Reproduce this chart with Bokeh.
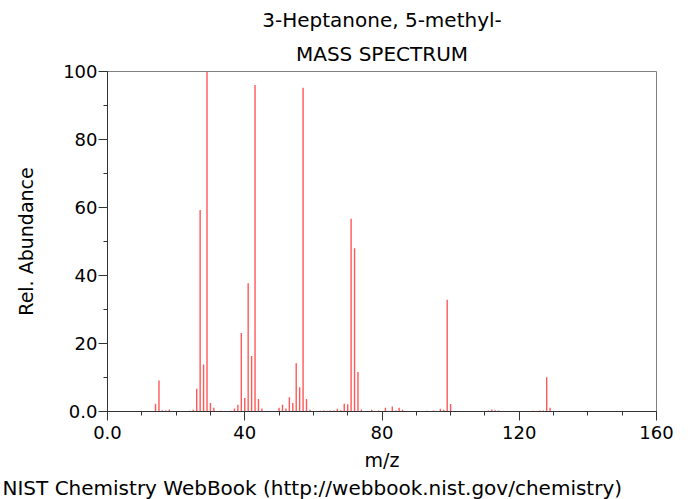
from bokeh.plotting import figure
from bokeh.models import Range1d, FixedTicker, Title
from bokeh.embed import file_html
from bokeh.resources import INLINE

mz = [14, 15, 16, 17, 18, 24, 25, 26, 27, 28, 29, 30, 31, 33, 36, 37, 38, 39, 40,
      41, 42, 43, 44, 45, 50, 51, 52, 53, 54, 55, 56, 57, 58, 59, 62, 63, 64, 65,
      66, 67, 68, 69, 70, 71, 72, 73, 74, 77, 79, 81, 83, 84, 85, 86, 93, 95, 97,
      98, 99, 100, 111, 112, 113, 114, 124, 126, 127, 128, 129]
abundance = [2.3, 9.1, 0.4, 0.3, 0.6, 0.2, 0.5, 6.7, 59.3, 13.8, 100.0, 2.5, 1.1,
             0.2, 0.2, 0.9, 2.0, 23.1, 4.0, 37.7, 16.3, 96.0, 3.7, 0.9, 1.1, 2.0,
             0.9, 4.2, 2.5, 14.2, 7.1, 95.2, 3.7, 0.5, 0.2, 0.3, 0.2, 0.3, 0.3, 0.8,
             0.4, 2.3, 2.1, 56.7, 48.0, 11.6, 0.6, 0.5, 0.3, 1.1, 1.5, 0.3, 1.1, 0.5,
             0.2, 0.3, 0.8, 0.5, 32.9, 2.2, 0.3, 0.6, 0.4, 0.3, 0.2, 0.3, 0.3, 10.1, 1.1]

x_major = [0, 40, 80, 120, 160]
x_minor = list(range(0, 161, 10))
y_major = [0, 20, 40, 60, 80, 100]
y_minor = list(range(0, 101, 10))

title_main = "3-Heptanone, 5-methyl-"
title_sub = "MASS SPECTRUM"
footer = "NIST Chemistry WebBook (http://webbook.nist.gov/chemistry)"

FONT = "DejaVu Sans"

p = figure(width=693, height=499, output_backend="svg", toolbar_location=None,
           x_range=Range1d(0, 160), y_range=Range1d(0, 100),
           min_border_left=107, min_border_right=37, min_border_top=71,
           min_border_bottom=88, background_fill_color="white",
           border_fill_color="white")

p.segment(x0=mz, y0=[0] * len(mz), x1=mz, y1=abundance,
          line_color="#ff2020", line_width=1.4, line_alpha=0.75)

p.grid.visible = False
p.outline_line_color = "#808080"
p.outline_line_width = 1

p.title.text = title_main
p.title.align = "center"
p.title.text_font = FONT
p.title.text_font_size = "20px"
p.title.text_font_style = "normal"
p.title.text_color = "black"
p.title.standoff = 4
p.add_layout(Title(text=title_sub, align="center", text_font=FONT,
                   text_font_size="20px", text_font_style="normal",
                   text_color="black", standoff=12),
             "above")

for ax, major, minor in ((p.xaxis[0], x_major, x_minor), (p.yaxis[0], y_major, y_minor)):
    ax.ticker = FixedTicker(ticks=major, minor_ticks=minor)
    ax.major_label_overrides = {0: "0.0"}
    ax.major_label_text_font = FONT
    ax.major_label_text_font_size = "18px"
    ax.major_label_text_color = "black"
    ax.axis_label_text_font = FONT
    ax.axis_label_text_font_size = "19px"
    ax.axis_label_text_font_style = "normal"
    ax.axis_label_text_color = "black"
    ax.axis_line_color = "#333333"
    ax.major_tick_line_color = "#333333"
    ax.minor_tick_line_color = "#333333"
    ax.major_tick_in = 0
    ax.major_tick_out = 9
    ax.minor_tick_in = 0
    ax.minor_tick_out = 4

p.xaxis.axis_label = "m/z"
p.xaxis.major_label_standoff = 5
p.xaxis.axis_label_standoff = 7
p.yaxis.axis_label = "Rel. Abundance"
p.yaxis.major_label_standoff = 1
p.yaxis.axis_label_standoff = 23

p.add_layout(Title(text=footer, align="left", text_font=FONT,
                   text_font_size="20px", text_font_style="normal",
                   text_color="black", standoff=0, offset=-105), "below")

open("out.html", "w").write(file_html(p, INLINE))
